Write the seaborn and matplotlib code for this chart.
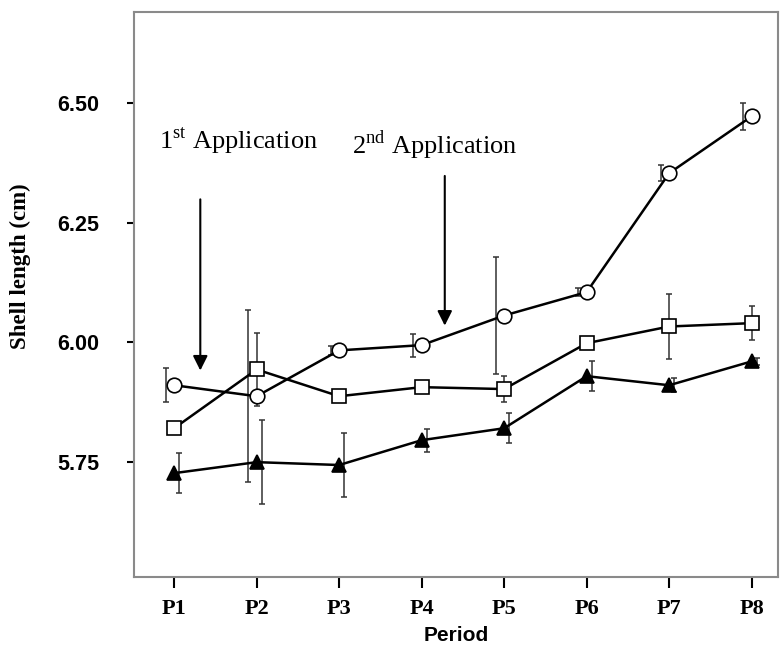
import numpy as np
import pandas as pd
import seaborn as sns
import matplotlib.pyplot as plt

# data
periods = ["P1", "P2", "P3", "P4", "P5", "P6", "P7", "P8"]
circle_mean = [5.910, 5.887, 5.983, 5.994, 6.056, 6.105, 6.354, 6.473]
circle_err = [0.036, 0.180, 0.010, 0.024, 0.122, 0.008, 0.017, 0.028]
square_mean = [5.820, 5.943, 5.887, 5.906, 5.902, 5.998, 6.033, 6.040]
square_err = [0.008, 0.076, 0.010, 0.010, 0.028, 0.008, 0.068, 0.036]
triangle_mean = [5.726, 5.749, 5.743, 5.795, 5.820, 5.929, 5.910, 5.960]
triangle_err = [0.042, 0.088, 0.066, 0.024, 0.031, 0.032, 0.015, 0.008]

sns.set_style("white")
plt.rcParams["mathtext.fontset"] = "custom"
plt.rcParams["mathtext.rm"] = "Liberation Serif"
plt.rcParams["text.color"] = "black"
plt.rcParams["xtick.color"] = "black"
plt.rcParams["ytick.color"] = "black"
plt.rcParams["axes.labelcolor"] = "black"

x = np.arange(1, len(periods) + 1)
df = pd.DataFrame({"x": x, "circle": circle_mean, "square": square_mean,
                   "triangle": triangle_mean})

fig = plt.figure(figsize=(7.82, 6.51), dpi=100)
ax = fig.add_axes([0.171, 0.114, 0.824, 0.868])

series = [
    ("circle", circle_err, "o", "white", -0.10),
    ("square", square_err, "s", "white", 0.0),
    ("triangle", triangle_err, "^", "black", 0.06),
]
for name, err, mk, fc, off in series:
    ax.errorbar(x + off, df[name], yerr=err, fmt="none", ecolor="#333333",
                elinewidth=1.1, capsize=2.5, capthick=1.1, zorder=2)
    sns.lineplot(data=df, x="x", y=name, ax=ax, color="black", lw=1.8,
                 marker=mk, markersize=10.5, markerfacecolor=fc,
                 markeredgecolor="black", markeredgewidth=1.2, zorder=3)

# application arrows
arrow = dict(arrowstyle="-|>", color="black", lw=1.5, mutation_scale=22)
ax.annotate("", xy=(1.317, 5.935), xytext=(1.317, 6.305), arrowprops=arrow)
ax.annotate("", xy=(4.28, 6.029), xytext=(4.28, 6.354), arrowprops=arrow)
ax.text(0.817, 6.406, r"1$^{\mathrm{st}}$ Application", fontsize=19,
        family="Liberation Serif", va="baseline")
ax.text(3.16, 6.395, r"2$^{\mathrm{nd}}$ Application", fontsize=19,
        family="Liberation Serif", va="baseline")

ax.set_xlim(0.51, 8.32)
ax.set_ylim(5.509, 6.692)
ax.set_xticks(x)
ax.set_xticklabels(periods, family="Liberation Serif", fontweight="bold",
                   fontsize=16)
ax.set_yticks([5.75, 6.00, 6.25, 6.50])
ax.set_yticklabels(["5.75", "6.00", "6.25", "6.50"], family="Liberation Sans",
                   fontweight="bold", fontsize=15.5)
ax.tick_params(axis="y", length=5, width=1.5, pad=20, left=True)
ax.tick_params(axis="x", length=8, width=1.5, pad=8, bottom=True)

ax.set_xlabel("Period", family="Liberation Sans", fontweight="bold",
              fontsize=15, labelpad=5)
ax.set_ylabel("Shell length (cm)", family="Liberation Serif",
              fontweight="bold", fontsize=16.5)
ax.yaxis.set_label_coords(-0.160, 0.549)

for s in ax.spines.values():
    s.set_color("#8a8a8a")
    s.set_linewidth(1.5)

fig.savefig("out.png", dpi=100)
